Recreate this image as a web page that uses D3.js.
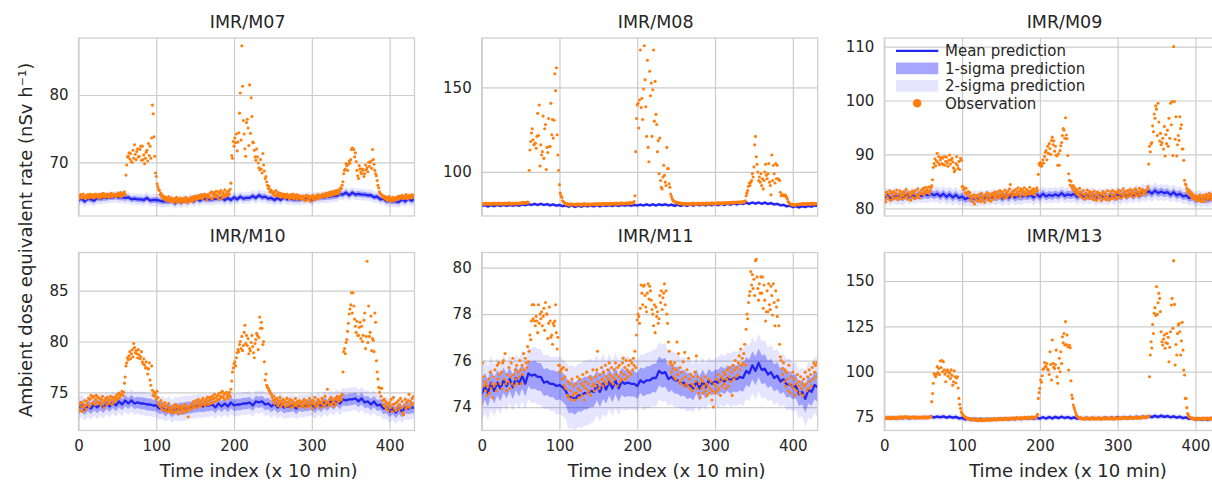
<!DOCTYPE html>
<html><head><meta charset="utf-8">
<script src="https://cdn.jsdelivr.net/npm/d3@7"></script>
<style>body{margin:0;background:#fff}</style>
</head><body><svg id="c" width="1212" height="482"></svg>
<script>
const stations = ["IMR/M07","IMR/M08","IMR/M09","IMR/M10","IMR/M11","IMR/M13"];
const xTicks = [0,100,200,300,400];
const xLimits = [0,432];
const yTicksM07 = [70,80], yTicksM08 = [100,150], yTicksM09 = [80,90,100,110];
const yTicksM10 = [75,80,85], yTicksM11 = [74,76,78,80], yTicksM13 = [75,100,125,150];
const yLimM07 = [62.02,88.47], yLimM08 = [74.0,179.1], yLimM09 = [78.57,111.6];
const yLimM10 = [71.24,88.76], yLimM11 = [72.99,80.65], yLimM13 = [67.6,165.7];
const legendLabels = ["Mean prediction","1-sigma prediction","2-sigma prediction","Observation"];

// observations, one value per time index (0..431)
const obsM07 = [
64.6,65.0,64.8,65.2,64.7,64.9,65.3,64.8,65.0,64.6,65.1,64.9,65.2,64.7,65.0,65.3,64.8,65.1,64.9,65.2,64.7,65.0,65.3,64.9,
65.1,64.8,65.2,65.0,64.7,65.3,64.9,65.1,65.4,64.8,65.0,65.2,64.9,65.3,65.1,64.8,65.2,65.0,65.4,64.9,65.1,65.3,65.0,65.2,
64.9,65.3,65.1,65.4,65.0,65.2,65.5,64.9,65.3,65.1,65.4,65.6,65.2,68.1,69.6,70.8,70.9,71.4,70.5,71.3,70.1,70.0,71.8,70.6,
72.6,71.2,70.4,71.6,72.0,70.8,70.9,71.9,72.4,70.3,72.4,70.4,71.1,69.8,70.6,71.5,71.8,70.2,72.8,71.0,72.4,70.6,73.6,78.5,
77.2,73.8,70.9,68.4,67.9,66.8,66.4,66.0,65.8,65.2,65.4,64.9,65.1,64.6,64.9,64.5,64.8,64.3,64.7,64.4,64.9,64.2,64.6,64.4,
64.7,64.2,64.5,64.0,64.6,64.3,64.8,64.1,64.5,64.2,64.4,64.7,64.0,64.5,64.3,64.6,64.1,64.4,64.8,64.2,64.5,64.0,64.6,64.3,
64.5,64.8,64.2,64.6,64.9,64.4,64.7,65.0,64.5,64.8,64.6,65.1,64.7,64.9,65.2,64.6,65.0,64.8,65.3,64.9,65.1,64.4,65.2,64.8,
65.0,65.4,64.7,65.6,64.6,65.2,65.5,64.9,65.3,65.7,64.8,65.1,65.6,64.5,65.4,65.8,65.0,64.7,65.5,65.2,65.9,64.9,65.3,65.6,
65.1,65.7,65.3,66.0,66.9,71.0,70.6,73.1,72.4,73.6,72.9,74.2,71.7,73.0,74.4,77.3,80.3,73.3,87.3,81.3,76.2,74.2,72.0,70.9,
75.9,76.4,75.1,72.5,81.5,74.3,79.6,76.8,73.0,72.9,71.8,70.8,70.3,72.0,70.8,69.9,69.2,68.9,70.4,69.0,68.4,71.3,69.6,68.7,
67.6,67.9,67.1,66.6,66.1,66.4,65.6,65.9,65.8,65.5,65.4,65.2,65.6,65.0,65.8,65.3,65.1,65.5,64.9,65.2,65.4,64.8,65.1,65.3,
64.9,65.2,64.7,65.0,65.3,64.8,65.1,64.6,65.0,65.2,64.7,64.9,65.3,64.6,65.0,64.8,65.2,64.5,64.9,65.1,64.7,65.0,64.6,64.9,
64.5,65.0,64.7,64.3,64.9,65.1,64.4,64.8,65.0,64.6,64.2,64.9,64.7,65.1,64.5,64.8,64.4,65.0,64.6,64.9,65.2,64.7,65.0,64.8,
65.1,64.8,65.3,64.9,65.2,65.0,65.4,64.9,65.3,65.1,65.5,65.0,65.2,65.6,65.1,65.4,65.7,65.2,65.5,65.8,65.3,65.6,65.9,65.4,
65.8,66.2,66.1,66.6,67.1,68.3,68.8,69.0,69.8,69.5,68.8,69.7,70.2,69.9,70.4,71.9,72.1,72.0,71.9,70.8,71.4,70.1,68.8,68.0,
67.6,69.5,69.0,68.5,68.3,69.0,68.8,67.9,68.3,69.6,68.9,69.2,68.6,70.0,69.4,70.0,70.2,69.1,71.9,70.4,69.7,68.8,68.3,68.0,
67.3,66.6,66.2,65.6,65.4,65.2,65.1,64.8,65.0,64.7,64.9,64.5,64.8,64.3,64.6,64.9,64.4,64.7,64.2,64.6,64.8,64.3,64.5,64.7,
64.4,64.8,64.5,64.9,64.6,65.0,64.7,64.9,65.1,64.6,64.8,65.0,64.7,65.2,64.9,64.6,65.0,64.8,65.1,64.7,64.9,65.2,64.8,65.0];

const obsM08 = [
81.2,81.5,80.9,81.3,81.0,81.6,81.2,80.9,81.4,81.1,81.5,80.8,81.3,81.2,81.5,81.0,81.6,81.1,81.3,80.9,81.4,81.2,81.6,81.0,
81.3,81.1,81.5,80.9,81.4,81.2,81.7,81.0,81.3,81.5,81.1,81.8,81.2,81.4,81.0,81.6,81.3,81.1,81.5,81.2,81.7,81.1,81.4,81.3,
81.6,81.2,81.8,81.4,81.7,82.1,81.5,81.9,81.6,82.0,81.7,82.2,81.9,101,113,118,123,125.5,119,116,116.5,117,114,121,
134.6,121.5,139.5,103.5,116,110,112,133,108,125.5,128,101.5,114.5,111.5,131.6,115,115,140.5,122,131,120,130.5,158,148,
161.5,122,110,101,92.5,87.5,86,85,83,82.5,82,81.5,81.2,80.8,81.3,80.6,81.0,80.4,80.9,81.2,80.5,80.8,81.1,80.6,
80.9,80.4,81.0,80.7,81.2,80.5,80.8,81.1,80.3,80.9,81.0,80.6,81.3,80.7,80.4,81.0,80.8,81.2,80.5,80.9,81.1,80.6,81.0,80.8,
81.2,80.7,81.0,81.4,80.8,81.1,80.6,81.3,80.9,81.2,80.7,81.0,81.5,80.8,81.1,81.3,80.9,81.4,81.0,81.2,80.8,81.5,81.1,81.3,
80.9,81.4,81.2,81.6,81.0,81.3,81.7,81.1,81.4,81.0,81.6,81.3,81.8,81.2,81.5,81.1,81.7,81.4,81.2,81.8,81.5,81.3,81.9,81.6,
81.4,81.8,81.6,82.0,82.5,86,112,131.6,139.5,140.5,126,142.5,172,138,143.5,131,149,174.5,154.5,138.5,121,166,114.5,106,
159.5,145,152.5,121,148.5,172,130,153.5,134,128,112,118.5,99,120,95,91,90,97,104,98,94,92,114.5,102,
102,93,91,87,85.5,84,83.2,82.8,82.5,82.0,82.2,81.8,81.5,81.9,81.3,81.7,81.2,81.6,81.0,81.4,81.1,81.5,80.9,81.3,
81.0,81.4,80.8,81.2,81.5,80.9,81.3,81.0,81.6,81.1,81.4,80.8,81.2,81.5,80.9,81.3,81.7,81.0,81.4,81.1,81.6,81.2,80.9,81.5,
81.2,81.6,81.0,81.4,81.7,81.1,81.5,81.3,81.8,81.0,81.4,81.6,81.2,81.7,81.3,81.5,81.9,81.2,81.6,81.4,81.8,81.3,81.7,81.5,
81.9,81.4,81.8,81.6,82.0,81.5,81.9,81.7,82.1,81.6,82.0,81.8,82.2,81.7,82.1,81.9,82.3,81.8,82.2,82.0,82.4,81.9,82.3,82.1,
82.5,82.0,82.4,83.0,86,87.5,89,91.5,93.5,92,94,95,99,97,103,116,121,109,104.5,100,95,97,94,99,
92,96,90,95,100,104.5,98,96,99,105,94,92,86.5,110,95,104,99,93.5,105,96,104,96,95.5,95,
88,86,86.5,86.5,86,86,86.5,86,85,84,82.5,82,81.5,81.0,80.6,80.9,80.4,80.7,80.3,80.8,80.5,80.9,80.6,81.0,
80.7,81.1,80.8,81.2,80.9,81.3,81.0,81.4,81.1,80.8,81.2,81.5,80.9,81.3,81.0,81.4,81.1,81.6,81.2,80.9,81.3,81.5,81.1,81.4];

const obsM09 = [
81.6,82.4,81.2,83.0,82.1,81.8,82.7,83.3,81.5,82.9,82.2,81.7,83.1,82.5,81.9,82.8,83.4,82.0,81.6,82.6,83.2,82.3,81.8,82.9,
82.4,83.1,81.9,82.7,83.5,82.2,81.7,82.8,83.0,82.3,81.5,82.6,83.2,82.0,82.9,81.8,83.3,82.5,82.1,83.6,82.4,81.9,83.0,82.7,
83.4,82.8,83.7,82.5,83.2,83.9,82.9,83.5,83.1,84.0,82.7,83.3,83.8,84.2,85.3,87.6,88.3,89.2,87.9,88.8,90.2,88.5,89.6,88.1,
89.0,89.4,88.3,89.3,88.1,89.6,88.0,88.7,89.5,88.4,87.8,88.9,89.9,88.2,89.0,89.3,88.6,87.5,86.8,87.1,88.3,89.6,88.0,87.4,
88.7,87.2,89.3,88.9,84.0,84.1,83.5,83.7,82.9,83.7,82.6,82.8,83.1,82.2,82.9,81.6,82.3,81.9,81.2,82.5,80.8,81.9,82.4,81.5,
82.1,81.4,82.6,81.9,81.2,82.8,82.0,81.6,82.3,81.1,82.5,81.8,82.9,82.2,81.5,82.7,82.0,81.3,82.4,82.8,81.7,82.3,83.0,82.1,
82.6,81.9,83.1,82.4,82.0,83.3,82.7,82.2,83.0,82.5,81.8,83.4,82.3,82.9,82.1,83.2,82.6,83.6,84.4,82.8,82.2,83.1,82.5,83.3,
82.7,83.5,82.4,83.0,83.8,82.6,83.2,82.1,83.6,82.9,83.3,82.5,83.8,83.0,82.4,83.5,82.8,83.2,82.6,83.9,83.1,82.7,83.4,82.9,
83.6,83.0,82.5,83.3,83.8,83.3,86.3,88.3,88.0,88.5,87.8,88.2,89.0,88.4,89.6,90.4,90.7,89.0,91.5,90.2,92.0,91.1,90.0,92.6,
93.2,91.8,92.5,90.6,91.5,89.9,89.7,88.0,90.1,88.0,90.7,91.6,92.2,93.5,94.8,94.5,93.0,96.8,93.6,92.9,89.8,86.4,85.2,84.3,
85.0,84.0,83.6,84.2,83.2,83.8,82.9,83.5,82.6,83.1,82.4,83.7,82.2,83.0,82.7,81.9,83.3,82.5,81.7,82.8,82.2,83.4,81.9,82.6,
83.1,82.3,81.8,82.9,82.4,81.6,83.2,82.0,82.7,81.5,83.0,82.3,81.9,82.8,82.1,81.4,82.6,83.1,81.8,82.4,82.9,81.6,82.2,83.3,
82.0,81.5,82.7,83.1,81.8,82.4,83.3,81.9,82.6,83.0,82.2,81.7,82.9,83.4,82.1,82.7,83.2,81.9,82.5,83.6,82.3,82.8,83.1,82.0,
82.6,83.3,82.2,82.9,83.5,82.4,83.0,82.7,83.4,82.1,82.8,83.6,82.5,83.1,82.3,83.0,83.7,82.6,83.2,82.4,83.5,82.9,83.3,83.0,
82.7,83.4,83.5,84.0,88.2,91.5,90.5,92.0,92.2,95.3,94.2,97.5,96.7,99.0,98.4,93.5,99.5,96.0,92.5,93.9,91.8,92.2,93.0,91.0,
95.2,89.7,93.7,92.0,94.5,91.5,96.7,93.0,99.5,95.5,99.8,89.8,110.0,99.8,92.8,97.0,89.7,91.8,93.5,92.6,97.0,94.8,95.5,91.0,
91.0,88.9,85.2,84.5,84.3,83.7,83.2,82.8,83.4,82.5,83.0,82.1,82.7,81.8,82.4,82.0,81.6,82.3,81.9,81.4,82.2,81.7,82.5,81.3,
82.0,81.5,82.4,81.8,81.2,82.1,82.6,81.7,82.3,81.9,82.8,82.2,81.6,82.5,82.0,82.7,81.8,82.4,82.1,82.9,82.3,81.9,82.6,82.2];

const obsM10 = [
73.4,73.8,73.2,74.0,73.6,73.1,73.9,73.5,74.2,73.7,73.3,74.1,73.8,74.4,73.6,74.3,74.7,73.9,74.5,74.0,74.6,73.8,74.3,74.7,
74.1,74.5,73.9,74.4,74.0,73.7,74.3,74.6,74.0,73.5,74.2,74.4,73.8,74.5,74.1,73.9,74.3,74.6,74.2,73.8,74.5,74.0,74.4,74.1,
74.6,74.3,74.8,74.4,74.9,74.5,74.7,74.8,75.1,74.7,75.0,75.9,76.5,77.6,77.9,78.4,78.2,78.6,79.0,78.3,78.8,79.2,78.5,79.8,
79.4,78.9,79.1,78.8,78.4,79.2,78.7,78.3,78.5,79.0,78.0,77.8,78.3,77.7,77.4,78.0,77.4,76.8,77.3,77.9,76.2,75.7,77.6,75.2,
74.7,75.0,74.6,74.9,74.3,75.1,74.5,73.8,74.0,73.6,74.2,73.4,73.8,73.2,73.6,74.0,73.3,73.7,73.1,73.5,73.9,73.2,73.4,73.0,
73.5,73.2,73.7,73.0,73.4,73.8,73.1,73.6,73.3,72.9,73.5,73.7,73.2,73.4,73.0,73.6,73.3,73.8,73.1,73.5,73.2,72.6,73.6,73.4,
73.7,73.3,73.9,73.5,74.1,73.6,73.8,74.2,73.5,73.9,74.3,73.7,74.0,73.6,74.2,73.8,74.4,73.9,74.1,73.7,74.3,74.0,74.5,73.8,
74.2,74.5,73.9,74.3,74.6,74.0,74.4,74.8,74.1,74.5,74.2,74.7,74.3,74.9,74.4,74.6,75.0,75.1,74.5,74.8,74.3,74.9,75.0,74.6,
74.4,74.8,75.0,74.6,75.3,76.1,77.0,77.4,77.8,78.0,77.6,78.4,78.9,79.2,79.0,79.7,80.0,79.3,80.5,79.1,79.6,80.9,81.6,79.8,
80.6,79.6,80.3,78.8,79.3,79.1,79.9,80.6,79.5,78.9,78.4,79.8,80.2,80.8,80.6,79.2,80.4,82.4,81.3,81.9,81.3,79.7,80.0,78.0,
76.2,76.8,75.7,75.5,75.4,75.2,75.1,74.9,74.8,74.5,74.2,74.6,73.9,74.3,74.0,74.4,73.7,74.2,73.9,74.5,73.6,74.1,73.8,74.3,
73.9,74.2,73.6,74.0,74.4,73.7,74.1,73.8,74.3,73.5,73.9,74.2,73.6,74.0,73.8,74.4,73.7,74.1,73.9,73.5,74.2,73.8,74.0,73.6,
74.1,73.7,74.3,73.9,73.5,74.2,73.8,74.0,73.6,74.4,73.7,74.1,73.9,73.4,74.2,73.8,74.5,73.6,74.0,73.7,74.3,73.9,74.1,73.5,
74.0,74.4,73.8,74.2,73.6,74.6,73.9,74.1,75.3,74.0,73.7,74.3,73.8,74.5,73.9,74.2,73.6,74.0,74.4,73.8,74.3,74.6,74.1,74.5,
74.2,74.6,74.3,74.8,77.0,79.0,79.3,78.8,79.9,80.2,81.0,81.8,82.7,83.2,83.6,84.8,82.8,84.8,83.5,82.2,81.5,80.9,82.0,80.6,
80.6,81.4,81.9,80.3,81.5,80.0,80.6,82.1,82.8,79.3,80.5,87.9,79.9,83.5,80.5,80.9,82.5,79.1,80.3,80.1,79.0,82.8,81.9,78.1,
77.0,76.3,75.5,75.0,75.4,74.6,75.4,74.2,73.8,74.3,73.6,74.1,73.4,73.9,73.2,73.7,74.0,73.5,74.3,73.1,73.8,74.5,73.4,73.9,
73.2,74.0,73.6,74.2,73.3,73.8,74.4,73.5,74.1,73.0,72.8,73.7,74.3,73.4,74.0,73.6,74.2,74.8,73.5,74.1,73.8,74.4,73.9,74.6];

const obsM11 = [
74.2,75.9,75.3,74.9,75.1,74.7,75.0,74.5,74.9,75.2,74.6,75.5,74.8,75.0,74.4,75.3,74.9,75.6,75.0,74.7,75.8,75.2,75.9,75.4,
75.0,75.5,74.8,75.9,76.0,75.2,76.3,75.0,74.7,75.4,75.1,75.7,74.8,75.3,75.9,75.0,76.1,75.4,74.9,75.6,75.2,75.8,75.0,75.5,
75.3,76.0,75.6,75.0,75.8,75.4,76.3,75.6,76.1,75.9,75.7,76.6,75.95,76.4,77.1,76.9,77.7,78.4,77.8,78.4,77.7,77.5,77.9,77.7,
77.2,78.4,77.6,78.0,77.8,78.1,77.5,77.9,78.25,77.3,78.5,78.0,78.0,76.95,77.6,78.3,77.7,77.0,77.1,76.7,77.6,77.5,77.7,78.4,
77.2,76.5,77.0,75.8,75.8,75.5,75.6,75.66,75.2,75.7,74.94,75.3,74.8,75.6,74.5,75.1,74.4,75.0,74.7,74.3,75.2,74.5,74.9,74.6,
74.3,75.0,74.6,75.3,74.8,74.4,75.2,74.7,75.0,74.5,75.4,74.9,74.3,75.1,74.8,75.5,74.6,75.0,74.7,75.3,74.5,75.2,74.9,75.6,
75.0,74.7,75.3,74.9,75.6,76.4,75.1,74.8,75.4,75.0,75.7,75.2,74.9,75.5,75.1,75.8,75.3,75.0,75.6,75.2,75.9,75.4,75.1,75.7,
75.3,75.0,75.6,75.2,75.9,75.4,74.9,75.7,75.3,75.8,75.1,75.5,75.2,75.9,76.1,75.4,75.7,75.2,76.0,75.6,75.3,75.8,75.5,76.0,
75.4,75.9,75.6,76.1,75.8,76.4,75.7,77.1,77.75,78.0,77.9,77.6,78.25,79.25,78.9,78.4,79.2,79.25,78.8,78.3,78.1,78.9,79.3,78.65,
79.2,79.0,78.6,78.2,78.0,77.5,78.4,77.2,78.3,77.9,78.1,77.6,77.8,78.8,78.5,79.0,78.2,78.7,78.9,79.3,78.4,79.0,78.0,77.6,
76.8,76.4,75.9,75.95,75.5,75.8,75.66,75.3,75.9,75.2,75.6,76.8,75.4,76.3,75.1,75.7,75.0,75.5,75.2,75.95,74.9,76.35,75.3,75.0,
75.6,74.9,76.1,75.2,74.8,75.4,75.0,74.7,75.3,74.9,75.5,75.1,76.2,74.8,75.3,74.6,75.0,74.4,75.2,74.8,75.1,74.6,74.9,75.3,
74.7,75.0,74.5,74.9,75.2,74.6,74.8,75.1,74.3,74.7,74.0,75.0,74.6,74.9,75.2,74.7,75.4,74.8,75.1,74.5,75.3,74.9,75.2,75.5,
75.0,75.4,74.8,75.2,75.6,74.9,75.3,75.7,75.1,75.5,74.5,75.8,75.2,75.6,76.0,75.3,75.7,75.4,75.9,76.2,75.6,76.5,75.8,76.1,
75.9,76.3,76.7,75.8,77.35,78.0,77.8,78.5,78.8,78.97,79.83,79.25,79.7,79.1,79.5,78.8,80.3,80.36,79.6,79.1,78.6,79.3,78.9,79.6,
78.9,79.6,78.25,79.25,78.6,77.7,78.1,79.0,78.1,79.3,78.4,78.2,79.2,78.8,77.96,79.3,78.5,77.5,79.0,78.3,77.9,78.6,77.5,76.7,
76.16,76.0,75.66,75.4,75.9,75.1,75.6,74.9,75.5,75.2,74.7,75.8,75.0,74.6,75.3,74.9,75.5,74.8,75.2,74.5,75.0,74.7,75.4,74.9,
75.1,74.6,75.3,74.8,75.0,74.5,75.2,74.9,75.5,75.0,74.7,75.3,74.8,75.6,75.1,75.4,74.9,75.7,75.2,75.9,75.5,75.8,75.3,75.9];

const obsM13 = [
74.3,74.8,74.1,74.6,74.9,74.2,74.7,74.4,75.0,74.3,74.8,74.5,74.1,74.9,74.4,74.7,74.2,74.8,75.1,74.5,74.9,74.3,75.2,74.6,
75.0,74.7,75.3,74.6,74.9,75.2,74.5,74.8,75.1,74.6,74.9,74.4,75.0,74.7,75.2,74.5,74.8,75.1,74.6,74.9,74.3,74.8,75.0,74.5,
74.9,74.6,75.1,74.7,74.4,75.0,74.8,74.5,75.2,74.7,74.9,75.3,75.1,83.5,88.0,93.6,99.0,98.2,97.2,98.6,102.8,99.5,101.8,98.4,
105.9,102.3,106.2,100.0,105.5,101.0,98.6,94.5,99.8,101.0,97.5,100.0,99.2,96.3,101.0,98.0,92.6,94.5,100.5,97.2,93.8,96.5,97.2,91.0,
85.3,82.0,79.8,77.9,77.0,76.2,75.7,75.3,74.9,74.6,74.3,74.5,74.0,73.8,74.2,73.6,74.0,73.5,73.9,73.4,73.7,73.2,73.6,73.9,
73.3,73.7,73.1,73.5,73.0,73.4,73.8,73.2,73.6,73.1,73.5,73.9,73.3,73.7,73.2,73.6,74.0,73.4,73.8,73.3,73.7,74.1,73.5,73.9,
73.4,73.8,74.2,73.6,74.0,73.5,74.3,73.7,74.1,73.6,74.0,74.4,73.8,74.2,73.7,74.1,74.5,73.9,74.3,73.8,74.2,74.6,74.0,74.4,
73.9,74.3,74.7,74.1,74.5,74.0,74.4,74.8,74.2,74.6,74.1,74.5,74.9,74.3,74.7,74.2,74.6,75.0,74.4,74.8,74.3,74.7,75.1,74.5,
74.9,74.6,75.0,74.8,75.4,76.5,85.3,88.5,90.8,95.4,94.2,97.8,101.3,101.8,105.1,103.0,102.8,104.5,101.3,100.9,98.5,111.0,104.0,95.4,
117.5,104.6,102.5,101.8,104.0,111.9,97.2,93.6,102.0,107.4,100.0,111.0,104.5,119.3,116.0,121.1,114.7,127.6,115.0,120.2,113.8,100.9,114.5,113.2,
95.0,87.1,85.3,81.6,80.2,78.9,77.5,76.1,75.4,75.0,74.7,74.3,74.6,74.1,74.4,73.9,74.3,74.0,74.5,73.8,74.2,74.6,74.0,74.3,
73.9,74.4,74.1,74.6,74.0,74.3,73.8,74.5,74.2,73.9,74.4,74.1,74.7,74.0,74.3,73.8,74.5,74.2,74.6,73.9,74.4,74.0,74.3,74.7,
74.1,74.5,73.9,74.3,74.6,74.0,74.4,73.8,74.2,74.7,74.1,74.5,74.0,74.3,74.8,74.2,74.6,74.1,74.4,74.9,74.3,74.7,74.2,74.5,
74.8,74.3,74.6,74.1,74.5,74.9,74.4,74.7,74.2,74.6,75.0,74.4,74.8,74.3,74.7,75.1,74.5,74.9,74.4,74.8,75.2,74.6,75.0,74.7,
75.1,74.8,75.3,75.0,75.6,97.2,109.2,116.5,113.0,126.0,121.0,132.2,135.3,131.0,146.9,131.6,138.0,143.2,140.4,133.1,122.0,116.5,114.7,118.0,
120.2,112.9,116.0,121.1,115.6,119.0,105.5,113.5,122.0,136.8,140.4,123.9,161.2,137.1,103.7,115.0,109.2,121.0,125.7,126.6,122.0,109.2,117.0,127.2,
111.9,100.9,98.2,85.3,85.3,80.2,77.0,76.1,75.2,74.9,74.6,74.2,74.5,74.0,74.3,73.8,74.2,73.9,74.4,73.7,74.1,73.8,74.3,74.0,
74.2,73.9,74.4,74.0,74.3,73.7,74.1,74.5,73.9,74.3,74.0,74.4,73.8,74.2,74.6,74.0,74.3,73.9,74.5,74.1,74.4,74.0,74.3,74.6];

// mean prediction, every 4 time indices (0,4,...,432)
const meanM07 = [64.4,64.6,64.2,64.6,64.5,64.3,64.7,64.6, 64.7,64.7,64.8,64.8,64.9,64.8,64.8,64.7, 64.8,64.5,64.6,64.5,64.5,64.4,64.7,64.3,
64.4,64.4,64.3,64.2,64.2,64.2,64.3,63.9, 64.3,64.0,64.4,64.1,64.5,64.2,64.6,64.3, 64.6,64.5,64.5,64.5,64.6,64.6,64.7,64.4,
64.7,64.4,64.8,64.5,64.9,64.6,64.7,64.7, 65.0,64.7,65.1,64.8,64.9,64.6,64.7,64.4, 64.7,64.4,64.8,64.5,64.6,64.5,64.5,64.5,
64.6,64.6,64.7,64.4,64.8,64.7,64.8,64.8, 64.9,64.9,65.0,65.0,65.3,65.2,65.5,65.1, 65.5,65.2,65.3,65.2,65.2,65.1,65.1,64.8,
64.9,64.5,64.6,64.2,64.3,64.2,64.2,64.1, 64.5,64.2,64.6,64.3,64.5];
const meanM08 = [80.0,80.4,79.6,80.4,79.8,80.5,79.9,80.5, 80.0,80.5,80.1,80.6,80.1,80.8,80.4,81.0, 80.5,81.2,80.5,81.2,80.5,81.0,80.3,80.8,
80.1,80.5,79.8,80.2,79.5,80.2,79.4,80.1, 79.6,80.1,79.7,80.2,79.7,80.4,79.7,80.4, 79.9,80.4,79.9,80.6,79.9,80.6,80.1,80.6,
80.1,80.6,80.2,80.7,80.2,80.9,80.2,80.9, 80.2,80.9,80.4,80.9,80.2,80.7,80.0,80.7, 80.0,80.7,80.0,80.8,80.1,80.8,80.3,80.8,
80.3,81.0,80.3,81.1,80.4,81.2,80.5,81.3, 80.7,81.5,80.8,81.6,81.1,81.9,81.2,82.0, 81.3,82.0,81.2,81.9,81.1,81.6,80.8,81.2,
80.3,80.6,79.7,80.1,79.3,79.8,79.1,79.8, 79.3,80.0,79.5,80.2,80.0];
const meanM09 = [82.0,82.4,81.8,82.4,82.1,82.3,82.0,82.6, 82.1,82.4,82.2,82.5,82.3,82.6,82.4,82.7, 82.4,82.7,82.2,82.7,82.1,82.6,82.0,82.5,
81.9,82.2,81.7,82.0,81.7,81.9,81.7,82.0, 81.8,82.1,81.9,82.2,82.0,82.3,81.8,82.4, 81.9,82.5,82.0,82.3,82.1,82.4,82.2,82.5,
82.0,82.6,82.1,82.7,82.2,82.5,82.3,82.6, 82.3,82.8,82.3,82.6,82.4,82.7,82.1,82.6, 82.1,82.4,82.2,82.5,81.9,82.4,82.1,82.3,
82.0,82.5,82.0,82.6,82.1,82.7,82.2,82.8, 82.3,82.9,82.4,83.0,82.7,83.2,82.7,83.3, 82.8,83.1,82.8,83.0,82.5,83.0,82.4,82.7,
82.2,82.4,81.9,82.1,81.6,81.9,81.6,81.8, 81.6,81.9,81.7,82.2,81.9];
const meanM10 = [73.4,73.7,73.3,73.7,73.4,73.8,73.5,73.8, 73.5,73.9,73.6,74.0,73.7,74.1,73.8,74.2, 73.9,74.2,73.9,74.0,73.9,73.9,73.8,73.8,
73.7,73.7,73.4,73.5,73.2,73.5,73.1,73.4, 73.3,73.4,73.4,73.5,73.5,73.6,73.6,73.7, 73.6,73.7,73.7,73.8,73.5,73.9,73.6,73.9,
73.6,74.0,73.7,73.8,73.8,73.9,73.9,74.0, 73.7,74.1,74.0,74.1,73.8,73.9,73.6,73.9, 73.5,73.8,73.5,73.6,73.6,73.7,73.4,73.7,
73.6,73.7,73.7,73.8,73.5,73.9,73.6,74.0, 73.7,74.1,73.8,74.2,73.9,74.3,74.2,74.3, 74.3,74.4,74.1,74.4,74.0,74.1,73.8,74.1,
73.7,73.8,73.4,73.5,73.1,73.4,73.0,73.4, 73.1,73.5,73.4,73.5,73.5];
const meanM11 = [74.55,74.9,74.6,75.05,74.7,75.05,74.8,75.15, 74.9,75.2,74.85,75.25,75.0,75.35,75.0,75.45, 75.35,75.4,75.3,75.3,75.05,75.1,75.0,75.0,
74.9,74.95,74.85,74.7,74.4,74.45,74.35,74.5, 74.5,74.6,74.6,74.7,74.65,74.95,74.65,75.0, 74.75,75.1,74.8,75.15,74.8,75.1,75.0,75.05,
75.0,75.0,74.9,75.15,75.05,75.15,75.15,75.25, 75.25,75.55,75.45,75.5,75.2,75.3,75.15,75.15, 75.0,75.05,74.9,74.95,74.8,75.1,74.8,75.1,
74.85,75.15,75.0,75.1,75.05,75.2,75.1,75.25, 75.15,75.25,75.2,75.3,75.25,75.55,75.45,75.8, 75.55,75.9,75.6,75.65,75.4,75.5,75.25,75.35,
75.1,75.2,74.95,75.0,74.85,74.9,74.55,74.65, 74.35,74.75,74.65,74.95,74.85];
const meanM13 = [74.0,74.8,74.1,74.9,74.1,74.8,74.4,74.8, 74.3,74.8,74.4,74.9,74.5,75.0,74.6,75.3, 74.8,75.3,74.9,75.4,74.7,75.2,74.7,75.1,
74.3,74.6,73.7,74.1,73.3,74.0,73.2,73.9, 73.2,73.9,73.4,73.9,73.5,74.0,73.6,74.1, 73.7,74.2,73.8,74.3,73.9,74.4,74.0,74.5,
74.1,74.6,74.2,74.9,74.2,75.0,74.3,75.1, 74.4,75.2,74.5,75.0,74.3,74.8,74.1,74.6, 74.1,74.6,73.9,74.6,74.1,74.5,74.0,74.7,
74.0,74.8,74.1,74.9,74.2,75.0,74.3,75.1, 74.4,75.2,74.5,75.3,74.8,75.5,75.0,75.7, 75.0,75.8,75.1,75.6,74.9,75.4,74.7,75.2,
74.4,74.8,74.0,74.4,73.6,74.1,73.6,74.0, 73.5,74.2,73.7,74.2,73.8];

// predictive standard deviation, every 16 time indices
const sigM07 = [0.42,0.43,0.41,0.44,0.42,0.43,0.45,0.42,0.41,0.43,0.42,0.44,0.43,0.42,0.44,0.43,0.41,0.42,0.44,0.43,0.45,0.44,0.43,0.42,0.41,0.42,0.43,0.42];
const sigM08 = [0.6,0.62,0.58,0.6,0.61,0.6,0.63,0.6,0.58,0.6,0.61,0.6,0.62,0.6,0.59,0.6,0.61,0.6,0.6,0.62,0.63,0.61,0.6,0.6,0.59,0.6,0.61,0.6];
const sigM09 = [0.72,0.74,0.7,0.73,0.72,0.75,0.73,0.72,0.7,0.72,0.74,0.72,0.73,0.71,0.72,0.74,0.72,0.71,0.73,0.72,0.75,0.76,0.74,0.72,0.71,0.72,0.73,0.72];
const sigM10 = [0.55,0.56,0.54,0.57,0.55,0.58,0.56,0.57,0.6,0.58,0.56,0.55,0.57,0.56,0.55,0.57,0.56,0.55,0.54,0.56,0.55,0.58,0.57,0.56,0.55,0.56,0.57,0.55];
const sigM11 = [0.58,0.55,0.52,0.55,0.6,0.58,0.62,0.68,0.7,0.65,0.6,0.58,0.55,0.6,0.62,0.58,0.55,0.52,0.5,0.55,0.58,0.6,0.62,0.58,0.55,0.52,0.6,0.65];
const sigM13 = [0.8,0.82,0.78,0.8,0.81,0.8,0.83,0.8,0.78,0.8,0.81,0.8,0.82,0.8,0.79,0.8,0.81,0.8,0.8,0.82,0.83,0.81,0.8,0.8,0.79,0.8,0.81,0.8];

const panels = [
  {name: stations[0], obs: obsM07, mean: meanM07, sig: sigM07, yTicks: yTicksM07, yLim: yLimM07},
  {name: stations[1], obs: obsM08, mean: meanM08, sig: sigM08, yTicks: yTicksM08, yLim: yLimM08},
  {name: stations[2], obs: obsM09, mean: meanM09, sig: sigM09, yTicks: yTicksM09, yLim: yLimM09},
  {name: stations[3], obs: obsM10, mean: meanM10, sig: sigM10, yTicks: yTicksM10, yLim: yLimM10},
  {name: stations[4], obs: obsM11, mean: meanM11, sig: sigM11, yTicks: yTicksM11, yLim: yLimM11},
  {name: stations[5], obs: obsM13, mean: meanM13, sig: sigM13, yTicks: yTicksM13, yLim: yLimM13}
];

// ---- layout & style ----
const FONT = "'DejaVu Sans', sans-serif";
const W = 336, H = 178;
const colX = [78.5, 481.7, 884.3];
const rowY = [38, 252.5];
const titleCX = [247.7, 655.7, 1064.5];
const xlabCX = [258.7, 666.7, 1068];
const GRID = "#cccccc";
const ORANGE = "#ff7f0e", MEANC = "#2424f2", BANDC = "#0000ff";
const MEAN_STEP = 4, SIG_STEP = 16;

const svg = d3.select("#c").style("font-family", FONT);
const defs = svg.append("defs");

panels.forEach((p, k) => {
  const c = k % 3, r = Math.floor(k / 3);
  const x0 = colX[c], y0 = rowY[r];
  const x = d3.scaleLinear().domain(xLimits).range([x0, x0 + W]);
  const y = d3.scaleLinear().domain(p.yLim).range([y0 + H, y0]);
  const g = svg.append("g");

  defs.append("clipPath").attr("id", "clip" + k).append("rect")
    .attr("x", x0).attr("y", y0).attr("width", W).attr("height", H);

  const ya = g.append("g").attr("transform", `translate(${x0},0)`)
    .call(d3.axisLeft(y).tickValues(p.yTicks).tickSize(-W).tickPadding(10).tickFormat(d3.format("d")));
  const xa = g.append("g").attr("transform", `translate(0,${y0 + H})`)
    .call(d3.axisBottom(x).tickValues(xTicks).tickSize(-H).tickPadding(9.5)
      .tickFormat(r === 1 ? d3.format("d") : () => ""));
  [ya, xa].forEach(a => {
    a.select(".domain").remove();
    a.selectAll(".tick line").attr("stroke", GRID).attr("stroke-width", 1.2);
    a.selectAll(".tick text").attr("fill", "#262626").style("font-size", "15px").style("font-family", FONT);
  });

  const data = g.append("g").attr("clip-path", `url(#clip${k})`);
  const sAt = i => p.sig[Math.min(p.sig.length - 1, Math.floor(i * MEAN_STEP / SIG_STEP))];
  const band = m => d3.area()
    .x((d, i) => x(i * MEAN_STEP))
    .y0((d, i) => y(d - m * sAt(i)))
    .y1((d, i) => y(d + m * sAt(i)));
  data.append("path").datum(p.mean).attr("d", band(2)).attr("fill", BANDC).attr("fill-opacity", 0.1);
  data.append("path").datum(p.mean).attr("d", band(1)).attr("fill", BANDC).attr("fill-opacity", 0.3);
  data.append("path").datum(p.mean)
    .attr("d", d3.line().x((d, i) => x(i * MEAN_STEP)).y(d => y(d)))
    .attr("fill", "none").attr("stroke", MEANC).attr("stroke-width", 2.3).attr("stroke-linejoin", "round");
  data.selectAll("circle").data(p.obs).join("circle")
    .attr("cx", (d, i) => x(i)).attr("cy", d => y(d)).attr("r", 1.55).attr("fill", ORANGE);

  g.append("rect").attr("x", x0).attr("y", y0).attr("width", W).attr("height", H)
    .attr("fill", "none").attr("stroke", GRID).attr("stroke-width", 1.2);

  svg.append("text").attr("x", titleCX[c]).attr("y", y0 - 10.5).attr("text-anchor", "middle")
    .style("font-size", "17.5px").attr("fill", "#262626").text(p.name);

  if (r === 1) {
    svg.append("text").attr("x", xlabCX[c]).attr("y", 477).attr("text-anchor", "middle")
      .style("font-size", "18px").attr("fill", "#262626").text("Time index (x 10 min)");
  }

  if (k === 2) {
    const lg = svg.append("g").style("font-size", "15px");
    const rows = [12.8, 30.3, 47.8, 65.3];
    const hx0 = x0 + 11.7, hx1 = x0 + 54, tx = x0 + 60.7;
    lg.append("line").attr("x1", hx0).attr("x2", hx1).attr("y1", y0 + rows[0]).attr("y2", y0 + rows[0])
      .attr("stroke", MEANC).attr("stroke-width", 2.2);
    lg.append("rect").attr("x", hx0).attr("y", y0 + rows[1] - 5.8).attr("width", hx1 - hx0).attr("height", 11.7)
      .attr("fill", BANDC).attr("fill-opacity", 0.35);
    lg.append("rect").attr("x", hx0).attr("y", y0 + rows[2] - 5.8).attr("width", hx1 - hx0).attr("height", 11.7)
      .attr("fill", BANDC).attr("fill-opacity", 0.1);
    lg.append("circle").attr("cx", (hx0 + hx1) / 2).attr("cy", y0 + rows[3]).attr("r", 4.3).attr("fill", ORANGE);
    lg.selectAll("text.lt").data(legendLabels).join("text").attr("class", "lt")
      .attr("x", tx).attr("y", (d, i) => y0 + rows[i]).attr("dy", "0.36em")
      .attr("fill", "#262626").text(d => d);
  }
});

svg.append("text").attr("transform", "translate(31.5,240) rotate(-90)").attr("text-anchor", "middle")
  .style("font-size", "18px").attr("fill", "#262626").text("Ambient dose equivalent rate (nSv h⁻¹)");
</script>
</body></html>
